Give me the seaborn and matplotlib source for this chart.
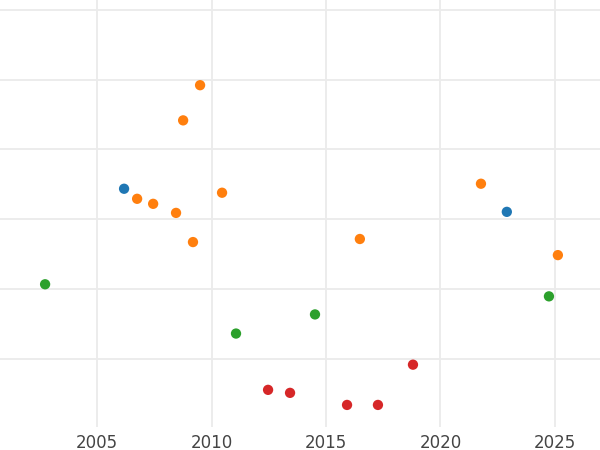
import matplotlib
matplotlib.use("Agg")
import matplotlib.pyplot as plt
import seaborn as sns
import pandas as pd

# values (y axis has no labels, arbitrary units)
GROUPS = ["A", "B", "C", "D"]
COLORS = ["#1f77b4", "#ff7f0e", "#2ca02c", "#d62728"]

a_year = [2006.18, 2022.90]
a_val = [24.35, 21.04]

b_year = [2009.50, 2008.76, 2006.75, 2007.45, 2008.45, 2010.46, 2009.19, 2016.48, 2021.77, 2025.13]
b_val = [39.19, 34.15, 22.91, 22.19, 20.89, 23.78, 16.71, 17.15, 25.07, 14.84]

c_year = [2002.73, 2011.07, 2014.52, 2024.74]
c_val = [10.66, 3.60, 6.34, 8.93]

d_year = [2012.47, 2013.43, 2015.92, 2017.27, 2018.80]
d_val = [-4.47, -4.90, -6.63, -6.63, -0.86]

df = pd.concat([
    pd.DataFrame({"year": a_year, "value": a_val, "group": "A"}),
    pd.DataFrame({"year": b_year, "value": b_val, "group": "B"}),
    pd.DataFrame({"year": c_year, "value": c_val, "group": "C"}),
    pd.DataFrame({"year": d_year, "value": d_val, "group": "D"}),
])

sns.set_style("white")
fig = plt.figure(figsize=(6, 4.5), dpi=100)
ax = fig.add_axes([0, 0.051, 1, 0.949])

sns.scatterplot(data=df, x="year", y="value", hue="group", hue_order=GROUPS,
                palette=COLORS, s=55, linewidth=0, legend=False, ax=ax, zorder=3)

ax.set_xlim(2000.76, 2026.97)
ax.set_ylim(-9.8, 51.4)
ax.set_xticks([2005, 2010, 2015, 2020, 2025])
ax.set_yticks([0, 10, 20, 30, 40, 50])
ax.set_yticklabels([])
ax.grid(True, color="#ebebeb", linewidth=1.3)
ax.tick_params(axis="both", length=0)
ax.tick_params(axis="x", labelsize=12, labelcolor="#444444", pad=5)
ax.set_xlabel("")
ax.set_ylabel("")
sns.despine(ax=ax, left=True, bottom=True)

fig.savefig("out.png", dpi=100)
